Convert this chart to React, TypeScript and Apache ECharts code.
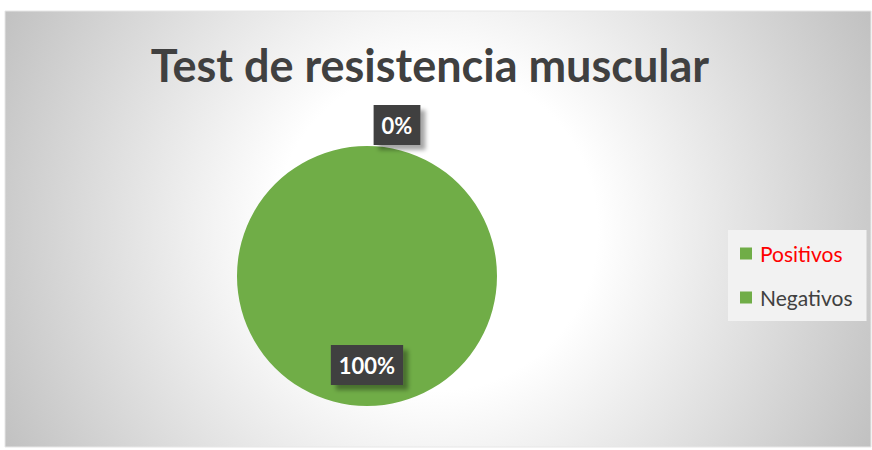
import React, { useEffect, useRef } from "react";
import * as echarts from "echarts";

const titleText = "Test de resistencia muscular";
const categories = ["Positivos", "Negativos"];
const values = [0, 100];
const sliceColors = ["#70AD47", "#70AD47"];
const legendColors = ["#FF0000", "#404040"];

export default function App() {
  const ref = useRef<HTMLDivElement>(null);
  useEffect(() => {
    if (!ref.current) return;
    const chart = echarts.init(ref.current, null, { renderer: "svg" });
    const labelOffsets = [[30, -83], [0, 21]];
    chart.setOption({
      animation: false,
      backgroundColor: "#ffffff",
      graphic: [
        {
          type: "rect",
          z: -10,
          shape: { x: 5, y: 11, width: 866, height: 436 },
          style: {
            fill: new echarts.graphic.RadialGradient(436, 229, 490, [
              { offset: 0, color: "#ffffff" },
              { offset: 0.33, color: "#ffffff" },
              { offset: 1, color: "#c0c0c0" },
            ], true),
            stroke: "#e6e6e6",
            lineWidth: 1,
          },
          silent: true,
        },
      ],
      title: {
        text: titleText,
        left: 425,
        textAlign: "center",
        top: 37,
        textStyle: {
          fontFamily: "Lato",
          fontWeight: "bold",
          fontSize: 45,
          color: "#404040",
        },
      },
      legend: {
        orient: "vertical",
        left: 728,
        top: 230,
        backgroundColor: "#f2f2f2",
        padding: [13, 14, 13, 12],
        itemWidth: 12,
        itemHeight: 12,
        itemGap: 23,
        icon: "rect",
        data: categories.map((c, i) => ({
          name: c,
          itemStyle: { color: sliceColors[i] },
          textStyle: { color: legendColors[i] },
        })),
        textStyle: { fontFamily: "Lato", fontSize: 21, color: "#404040", padding: [0, 0, 0, 3] },
      },
      series: [
        {
          type: "pie",
          center: [367, 276],
          radius: [0, 130],
          startAngle: 90,
          clockwise: true,
          avoidLabelOverlap: false,
          stillShowZeroSum: true,
          labelLine: { show: false },
          data: categories.map((c, i) => ({
            name: c,
            value: values[i],
            itemStyle: { color: sliceColors[i] },
            label: { offset: labelOffsets[i] },
          })),
          label: {
            show: true,
            position: "inside",
            formatter: (p: any) => Math.round(p.percent) + "%",
            fontFamily: "Lato",
            fontWeight: "bold",
            fontSize: 22,
            color: "#ffffff",
            backgroundColor: "#404040",
            padding: [10, 8, 8, 8],
            shadowColor: "rgba(0,0,0,0.35)",
            shadowBlur: 4,
            shadowOffsetX: 5,
            shadowOffsetY: 5,
          },
        },
      ],
    });
    return () => chart.dispose();
  }, []);
  return (
    <div
      ref={ref}
      style={{ position: "fixed", left: 0, top: 0, width: 872, height: 450 }}
    />
  );
}
